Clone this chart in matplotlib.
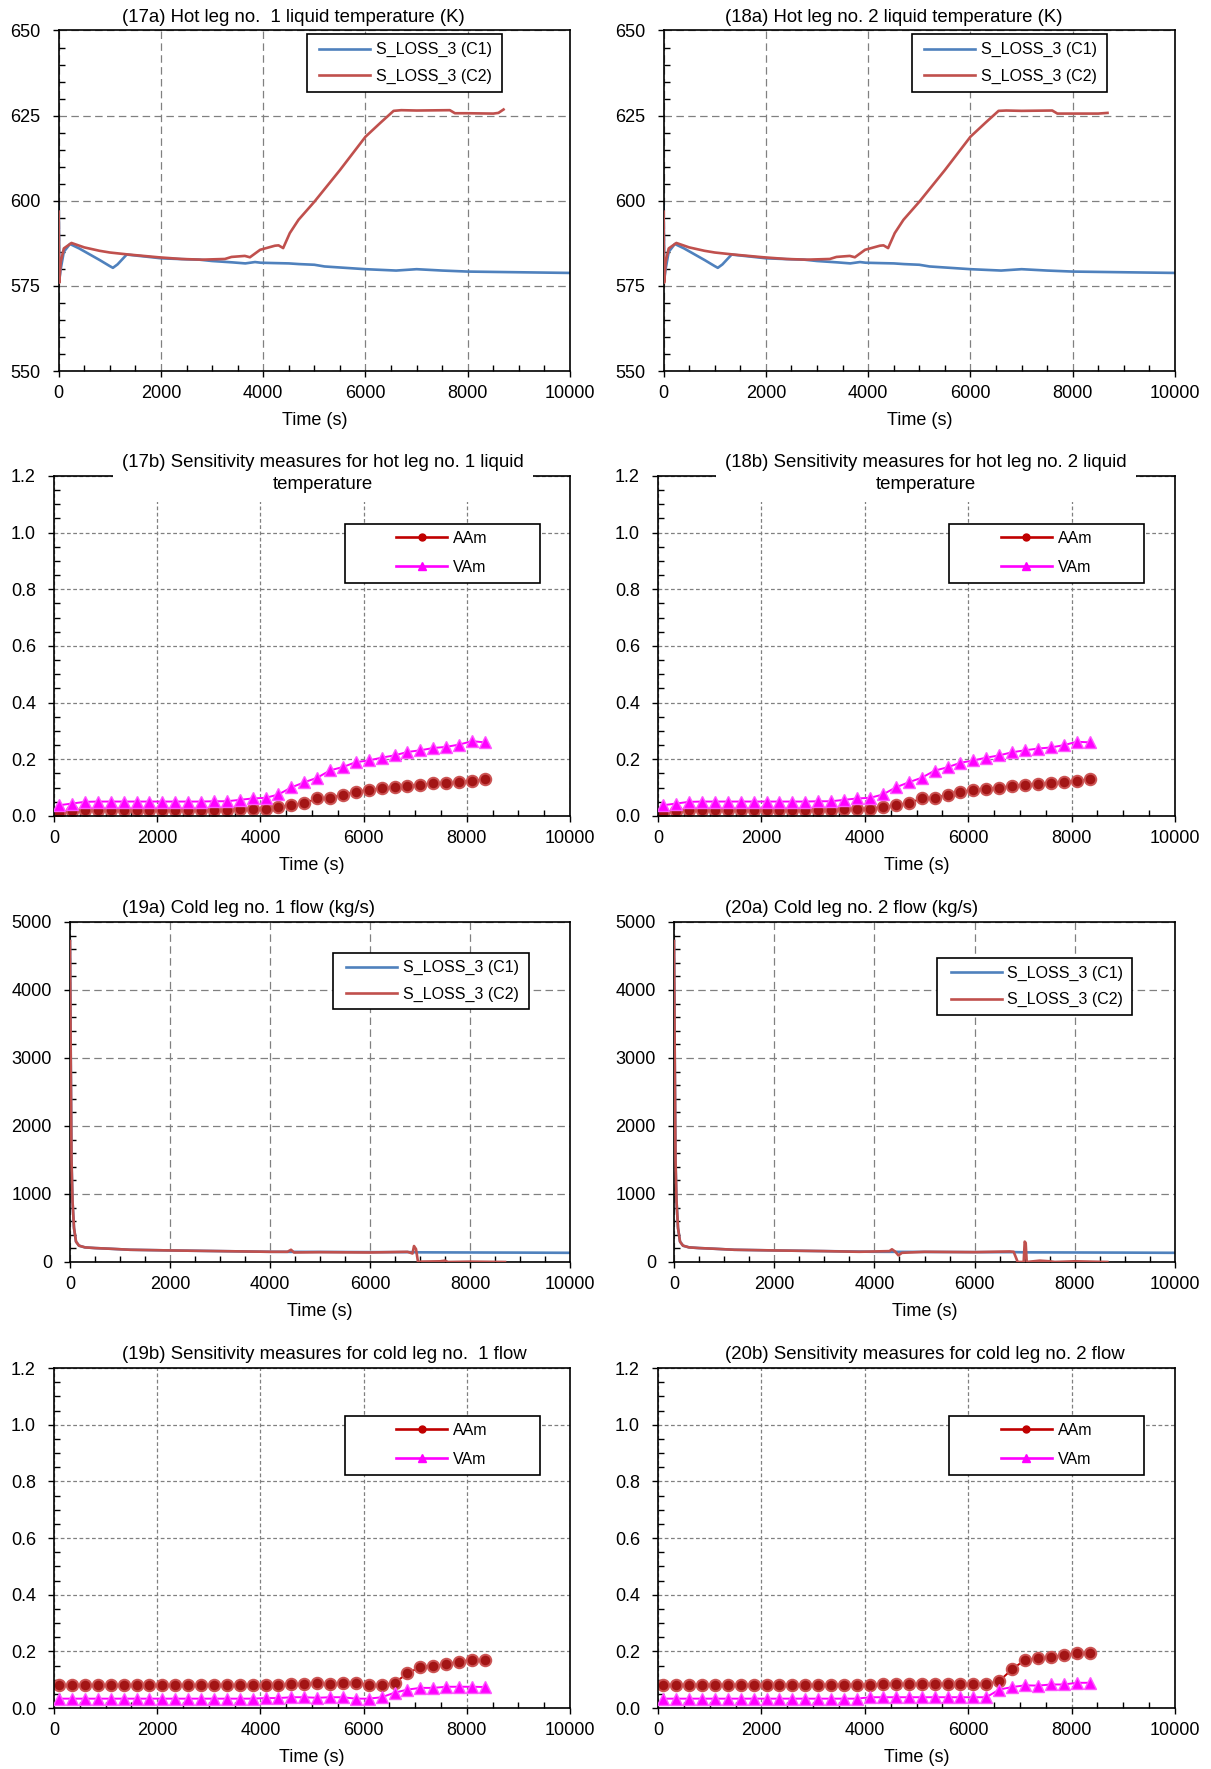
import matplotlib
matplotlib.use("Agg")
import matplotlib.pyplot as plt
from matplotlib.lines import Line2D
from matplotlib.patches import Rectangle
from matplotlib.ticker import MultipleLocator, FormatStrFormatter

plt.rcParams['font.family'] = ['Liberation Sans', 'DejaVu Sans']

# ---- hot leg liquid temperature (K) ----
hl1_c1_t = [0, 15, 40, 100, 220, 400, 600, 800, 1000, 1060, 1150, 1330, 1450, 1700, 2000, 2500,
            2750, 3000, 3400, 3650, 3840, 3950, 4200, 4500, 4700, 5000, 5200, 5600, 6000, 6600,
            7000, 7500, 8000, 9000, 10000]
hl1_c1_T = [599.2, 577.0, 580.0, 585.0, 587.3, 586.0, 584.3, 582.6, 580.8, 580.3, 581.3, 584.2,
            584.0, 583.6, 583.1, 582.8, 582.7, 582.3, 581.9, 581.6, 582.0, 581.8, 581.7, 581.6,
            581.4, 581.2, 580.7, 580.3, 579.9, 579.5, 579.9, 579.5, 579.2, 579.0, 578.8]
hl1_c2_t = [0, 10, 40, 100, 250, 500, 800, 1000, 1370, 1950, 2400, 2800, 3250, 3380, 3640, 3740,
            3940, 4230, 4300, 4390, 4520, 4690, 5000, 5500, 6000, 6300, 6550, 6700, 7000, 7650,
            7750, 8000, 8500, 8600, 8700]
hl1_c2_T = [596.8, 575.9, 582.0, 586.0, 587.6, 586.3, 585.3, 584.8, 584.2, 583.4, 582.9, 582.7,
            582.9, 583.5, 583.8, 583.4, 585.6, 586.8, 586.9, 586.1, 590.5, 594.4, 599.7, 609.0,
            618.8, 623.0, 626.4, 626.6, 626.5, 626.6, 625.7, 625.7, 625.6, 625.8, 626.8]

hl2_c1_t = hl1_c1_t
hl2_c1_T = [599.0, 577.0, 580.0, 585.0, 587.3, 586.0, 584.3, 582.6, 580.8, 580.3, 581.3, 584.2,
            584.0, 583.6, 583.1, 582.8, 582.7, 582.3, 581.9, 581.6, 582.0, 581.8, 581.7, 581.6,
            581.4, 581.2, 580.7, 580.3, 579.9, 579.5, 579.9, 579.5, 579.2, 579.0, 578.8]
hl2_c2_t = [0, 10, 40, 100, 250, 500, 800, 1000, 1370, 1950, 2400, 2800, 3250, 3380, 3640, 3740,
            3940, 4230, 4300, 4390, 4520, 4690, 5000, 5500, 6000, 6300, 6550, 6700, 7000, 7600,
            7700, 8000, 8500, 8680]
hl2_c2_T = [596.8, 575.9, 582.0, 586.0, 587.6, 586.3, 585.3, 584.8, 584.2, 583.4, 582.9, 582.7,
            582.9, 583.5, 583.8, 583.4, 585.6, 586.8, 586.9, 586.1, 590.5, 594.4, 599.7, 609.0,
            618.8, 623.0, 626.4, 626.5, 626.4, 626.5, 625.6, 625.6, 625.6, 625.8]

# ---- cold leg flow (kg/s) ----
cl1_c1_t = [0, 15, 30, 50, 80, 120, 180, 300, 500, 800, 1200, 2000, 3000, 4000, 5000, 6000,
            6800, 7000, 8000, 9000, 10000]
cl1_c1_Q = [4720, 3000, 1500, 900, 500, 300, 240, 215, 205, 195, 180, 170, 160, 150, 148, 145,
            145, 142, 140, 138, 135]
cl1_c2_t = [0, 15, 30, 50, 80, 120, 180, 300, 500, 800, 1200, 2000, 3000, 4000, 4350, 4420,
            4480, 5000, 6000, 6750, 6850, 6880, 6920, 6960, 7000, 7400, 7500, 7560, 8000, 8700]
cl1_c2_Q = [4720, 3000, 1500, 900, 500, 300, 240, 215, 205, 195, 180, 170, 160, 150, 150, 180,
            140, 145, 140, 150, 125, 235, 190, 0, 5, 10, 20, 0, 5, 0]

cl2_c1_t = cl1_c1_t
cl2_c1_Q = cl1_c1_Q
cl2_c2_t = [0, 15, 30, 50, 80, 120, 180, 300, 500, 800, 1200, 2000, 3000, 3700, 4300, 4350,
            4420, 4480, 4550, 5000, 6000, 6700, 6780, 6860, 6900, 6980, 7000, 7020, 7040, 7300,
            7500, 7600, 8000, 8650]
cl2_c2_Q = [4720, 3000, 1500, 900, 500, 300, 240, 215, 205, 195, 180, 170, 160, 150, 160, 187,
            150, 98, 135, 150, 145, 155, 150, 0, 0, 0, 300, 280, 0, 20, 10, 0, 10, 0]

# ---- sensitivity measures ----
sens_t = [100, 350, 600, 850, 1100, 1350, 1600, 1850, 2100, 2350, 2600, 2850, 3100, 3350, 3600,
          3850, 4100, 4350, 4600, 4850, 5100, 5350, 5600, 5850, 6100, 6350, 6600, 6850, 7100,
          7350, 7600, 7850, 8100, 8350]

hl1_aam = [0.012, 0.018, 0.020, 0.021, 0.021, 0.021, 0.022, 0.022, 0.022, 0.022, 0.022, 0.022,
           0.022, 0.022, 0.024, 0.026, 0.026, 0.032, 0.038, 0.045, 0.062, 0.065, 0.074, 0.086,
           0.092, 0.098, 0.101, 0.107, 0.111, 0.115, 0.115, 0.119, 0.125, 0.129]
hl1_vam = [0.038, 0.044, 0.050, 0.051, 0.051, 0.051, 0.051, 0.051, 0.051, 0.051, 0.051, 0.051,
           0.052, 0.052, 0.057, 0.062, 0.064, 0.076, 0.101, 0.119, 0.135, 0.161, 0.173, 0.190,
           0.196, 0.206, 0.214, 0.226, 0.232, 0.240, 0.244, 0.252, 0.264, 0.260]
hl2_aam = [0.012, 0.018, 0.020, 0.021, 0.021, 0.021, 0.022, 0.022, 0.022, 0.022, 0.022, 0.022,
           0.022, 0.022, 0.024, 0.026, 0.026, 0.032, 0.038, 0.045, 0.062, 0.065, 0.074, 0.086,
           0.092, 0.096, 0.100, 0.106, 0.110, 0.114, 0.115, 0.119, 0.125, 0.129]
hl2_vam = [0.038, 0.044, 0.050, 0.051, 0.051, 0.051, 0.051, 0.051, 0.051, 0.051, 0.051, 0.051,
           0.052, 0.052, 0.057, 0.062, 0.064, 0.076, 0.101, 0.119, 0.135, 0.160, 0.172, 0.188,
           0.196, 0.206, 0.214, 0.225, 0.232, 0.238, 0.242, 0.250, 0.262, 0.260]
cl1_aam = [0.081, 0.081, 0.081, 0.081, 0.081, 0.081, 0.081, 0.081, 0.081, 0.081, 0.081, 0.081,
           0.081, 0.081, 0.081, 0.081, 0.081, 0.081, 0.083, 0.083, 0.087, 0.083, 0.089, 0.089,
           0.081, 0.081, 0.089, 0.122, 0.145, 0.149, 0.155, 0.164, 0.170, 0.169]
cl1_vam = [0.033, 0.033, 0.033, 0.033, 0.033, 0.033, 0.033, 0.033, 0.033, 0.033, 0.033, 0.033,
           0.033, 0.033, 0.033, 0.033, 0.035, 0.035, 0.038, 0.038, 0.036, 0.038, 0.038, 0.033,
           0.033, 0.038, 0.054, 0.065, 0.071, 0.071, 0.075, 0.075, 0.075, 0.074]
cl2_aam = [0.082, 0.082, 0.082, 0.082, 0.082, 0.082, 0.082, 0.082, 0.082, 0.082, 0.082, 0.082,
           0.082, 0.082, 0.082, 0.082, 0.082, 0.085, 0.085, 0.085, 0.085, 0.085, 0.085, 0.085,
           0.085, 0.085, 0.095, 0.137, 0.170, 0.175, 0.179, 0.188, 0.193, 0.193]
cl2_vam = [0.033, 0.033, 0.033, 0.033, 0.033, 0.033, 0.033, 0.033, 0.033, 0.033, 0.033, 0.033,
           0.033, 0.033, 0.033, 0.033, 0.038, 0.038, 0.038, 0.038, 0.038, 0.038, 0.038, 0.038,
           0.038, 0.038, 0.065, 0.074, 0.080, 0.079, 0.083, 0.083, 0.089, 0.089]

BLUE = '#4F81BD'
RED = '#C0504D'
AAM_LINE = '#C00000'
AAM_FACE = '#A31515'
AAM_EDGE = '#CC5555'
VAM = '#FF00FF'
GRID = '#808080'

W, H = 1211, 1769
fig = plt.figure(figsize=(W / 100, H / 100), dpi=100)


def add_axes_px(left, right, top, bottom):
    return fig.add_axes([left / W, 1 - bottom / H, (right - left) / W, (bottom - top) / H])


def style_axes(ax, ylim, ymajor, yminor, dashes, yfmt):
    ax.set_xlim(0, 10000)
    ax.set_ylim(*ylim)
    ax.xaxis.set_major_locator(MultipleLocator(2000))
    ax.xaxis.set_minor_locator(MultipleLocator(500))
    ax.yaxis.set_major_locator(MultipleLocator(ymajor))
    ax.yaxis.set_minor_locator(MultipleLocator(yminor))
    ax.yaxis.set_major_formatter(FormatStrFormatter(yfmt))
    ax.tick_params(which='major', direction='out', length=4, width=1, labelsize=13, pad=6,
                   colors='black')
    ax.tick_params(which='minor', direction='in', length=4, width=1)
    ax.tick_params(axis='y', which='major', pad=9)
    ax.grid(True, which='major', color=GRID, linewidth=0.9, linestyle=(0, dashes))
    ax.set_axisbelow(True)
    for sp in ax.spines.values():
        sp.set_linewidth(1.2)
        sp.set_color('black')
    ax.set_xlabel('Time (s)', fontsize=13, labelpad=7)


def add_title(x_px, y_px, text, boxed=False):
    kw = {}
    if boxed:
        kw['bbox'] = dict(boxstyle='square,pad=0.5', facecolor='white', edgecolor='none')
    fig.text(x_px / W, 1 - y_px / H, text, ha='left', va='center', fontsize=13.4,
             multialignment='center', linespacing=1.32, zorder=10, **kw)


def add_legend(ax, handles, labels, box, anchor, hlen, spacing):
    x0, x1, y0, y1 = box
    ax.add_patch(Rectangle((x0, y0), x1 - x0, y1 - y0, transform=ax.transAxes,
                           facecolor='white', edgecolor='black', linewidth=1.2, zorder=4))
    leg = ax.legend(handles, labels, loc='center left', bbox_to_anchor=anchor, frameon=False,
                    fontsize=11.5, borderpad=0, borderaxespad=0, handlelength=hlen,
                    handletextpad=0.35, labelspacing=spacing)
    leg.set_zorder(5)


def line_panel(ax, c1_t, c1_v, c2_t, c2_v):
    ax.plot(c1_t, c1_v, color=BLUE, lw=1.9, zorder=2)
    ax.plot(c2_t, c2_v, color=RED, lw=1.9, zorder=3)


def sens_panel(ax, aam, vam):
    ax.plot(sens_t, aam, color=AAM_LINE, lw=1.4, marker='o', markersize=8.3,
            markerfacecolor=AAM_FACE, markeredgecolor=AAM_EDGE, markeredgewidth=1.4, zorder=2)
    ax.plot(sens_t, vam, color=VAM, lw=1.4, marker='^', markersize=8.8,
            markerfacecolor=VAM, markeredgecolor='#FF55FF', markeredgewidth=1.0, zorder=3)


case_handles = [Line2D([], [], color=BLUE, lw=1.9), Line2D([], [], color=RED, lw=1.9)]
case_labels = ['S_LOSS_3 (C1)', 'S_LOSS_3 (C2)']
sens_handles = [Line2D([], [], color=AAM_LINE, lw=1.9, marker='o', markersize=5,
                       markerfacecolor=AAM_LINE, markeredgecolor=AAM_LINE),
                Line2D([], [], color=VAM, lw=1.9, marker='^', markersize=6,
                       markerfacecolor=VAM, markeredgecolor=VAM)]
sens_labels = ['AAm', 'VAm']

cols = [
    dict(title_x=122, temp=(58.7, 570), sens=(54, 570), flow=(70, 570)),
    dict(title_x=725, temp=(663.6, 1175), sens=(658, 1175), flow=(674, 1175)),
]
ROW_TEMP = (30.5, 371)
ROW_SENS1 = (476, 816)
ROW_FLOW = (922, 1262)
ROW_SENS2 = (1368, 1708)

temp_data = [(hl1_c1_t, hl1_c1_T, hl1_c2_t, hl1_c2_T), (hl2_c1_t, hl2_c1_T, hl2_c2_t, hl2_c2_T)]
flow_data = [(cl1_c1_t, cl1_c1_Q, cl1_c2_t, cl1_c2_Q), (cl2_c1_t, cl2_c1_Q, cl2_c2_t, cl2_c2_Q)]
hot_sens = [(hl1_aam, hl1_vam), (hl2_aam, hl2_vam)]
cold_sens = [(cl1_aam, cl1_vam), (cl2_aam, cl2_vam)]
temp_titles = ['(17a) Hot leg no.  1 liquid temperature (K)', '(18a) Hot leg no. 2 liquid temperature (K)']
hot_titles = ['(17b) Sensitivity measures for hot leg no. 1 liquid\ntemperature',
              '(18b) Sensitivity measures for hot leg no. 2 liquid\ntemperature']
flow_titles = ['(19a) Cold leg no. 1 flow (kg/s)', '(20a) Cold leg no. 2 flow (kg/s)']
cold_titles = ['(19b) Sensitivity measures for cold leg no.  1 flow',
               '(20b) Sensitivity measures for cold leg no. 2 flow']
flow_boxes = [((0.526, 0.917, 0.743, 0.910), (0.552, 0.826)),
              ((0.525, 0.915, 0.725, 0.894), (0.552, 0.810))]

for i, col in enumerate(cols):
    # hot leg temperature
    ax = add_axes_px(*col['temp'], *ROW_TEMP)
    style_axes(ax, (550, 650), 25, 5, (6, 3.5), '%d')
    line_panel(ax, *temp_data[i])
    add_legend(ax, case_handles, case_labels, (0.486, 0.867, 0.818, 0.990), (0.509, 0.904),
               3.2, 0.72)
    add_title(col['title_x'], 18, temp_titles[i])

    # hot leg sensitivity
    ax = add_axes_px(*col['sens'], *ROW_SENS1)
    style_axes(ax, (0, 1.2), 0.2, 0.05, (3, 2), '%.1f')
    sens_panel(ax, *hot_sens[i])
    add_legend(ax, sens_handles, sens_labels, (0.563, 0.941, 0.686, 0.860), (0.663, 0.774),
               3.2, 0.85)
    add_title(col['title_x'], 473.5, hot_titles[i], boxed=True)

    # cold leg flow
    ax = add_axes_px(*col['flow'], *ROW_FLOW)
    style_axes(ax, (0, 5000), 1000, 200, (6, 3.5), '%d')
    line_panel(ax, *flow_data[i])
    box, anchor = flow_boxes[i]
    add_legend(ax, case_handles, case_labels, box, anchor, 3.2, 0.72)
    add_title(col['title_x'], 908.5, flow_titles[i])

    # cold leg sensitivity
    ax = add_axes_px(*col['sens'], *ROW_SENS2)
    style_axes(ax, (0, 1.2), 0.2, 0.05, (3, 2), '%.1f')
    sens_panel(ax, *cold_sens[i])
    add_legend(ax, sens_handles, sens_labels, (0.563, 0.941, 0.686, 0.860), (0.663, 0.774),
               3.2, 0.85)
    add_title(col['title_x'], 1354.5, cold_titles[i])

fig.savefig('out.png', dpi=100, facecolor='white')
